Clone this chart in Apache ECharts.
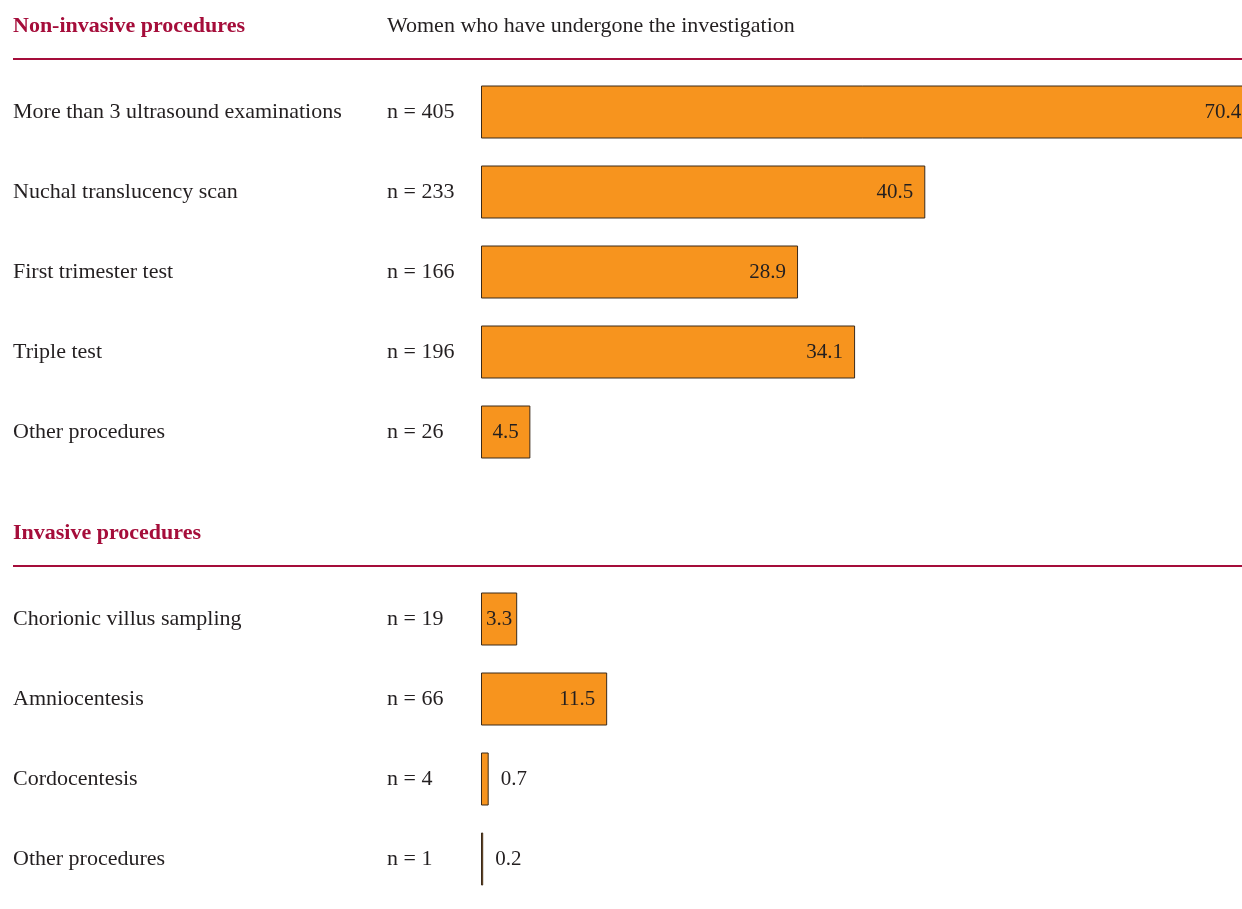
<!DOCTYPE html>
<html>
<head>
<meta charset="utf-8">
<style>
  html, body { margin: 0; padding: 0; background: #ffffff; }
  #chart { width: 1242px; height: 909px; }
</style>
<script src="https://cdn.jsdelivr.net/npm/echarts@6/dist/echarts.min.js"></script>
</head>
<body>
<div id="chart"></div>
<script>
// Prenatal diagnostics: share of women (%) who have undergone each investigation
const groupTitles = ['Non-invasive procedures', 'Invasive procedures'];
const columnTitle = 'Women who have undergone the investigation';

const nonInvasiveNames = [
  'More than 3 ultrasound examinations',
  'Nuchal translucency scan',
  'First trimester test',
  'Triple test',
  'Other procedures'
];
const nonInvasiveCounts = [405, 233, 166, 196, 26];
const nonInvasivePercent = [70.4, 40.5, 28.9, 34.1, 4.5];

const invasiveNames = [
  'Chorionic villus sampling',
  'Amniocentesis',
  'Cordocentesis',
  'Other procedures'
];
const invasiveCounts = [19, 66, 4, 1];
const invasivePercent = [3.3, 11.5, 0.7, 0.2];

const FONT = '"Liberation Serif", "DejaVu Serif", serif';
const INK = '#231f20';
const CRIMSON = '#a50d3a';
const ORANGE = '#f7941e';
// visible scale ends at the page edge; the longest bar runs past it
const AXIS_MAX = 69.37;

function barData(values) {
  return values.map(function (v) {
    let pos = 'insideRight';
    if (v < 2) pos = 'right';
    else if (v < 6) pos = 'inside';
    return { value: v, label: { position: pos } };
  });
}

function yAxisFor(gridIndex, names, counts) {
  return {
    type: 'category',
    gridIndex: gridIndex,
    data: names,
    inverse: true,
    axisLine: { show: false },
    axisTick: { show: false },
    splitLine: { show: false },
    axisLabel: {
      align: 'left',
      margin: 468,
      formatter: function (value, index) {
        return '{name|' + value + '}{n|n = ' + counts[index] + '}';
      },
      rich: {
        name: { width: 374, fontFamily: FONT, fontSize: 22, color: INK },
        n: { fontFamily: FONT, fontSize: 22, color: INK }
      }
    }
  };
}

function xAxisFor(gridIndex) {
  return {
    type: 'value',
    gridIndex: gridIndex,
    min: 0,
    max: AXIS_MAX,
    show: false
  };
}

function seriesFor(index, values) {
  return {
    type: 'bar',
    xAxisIndex: index,
    yAxisIndex: index,
    data: barData(values),
    barWidth: 53,
    clip: false,
    itemStyle: { color: ORANGE, borderColor: '#3b2a1a', borderWidth: 1 },
    label: {
      show: true,
      distance: 12,
      color: INK,
      fontFamily: FONT,
      fontSize: 21,
      formatter: function (p) { return p.value.toFixed(1); }
    },
    silent: true,
    animation: false
  };
}

const chart = echarts.init(document.getElementById('chart'), null, { renderer: 'canvas' });

chart.setOption({
  backgroundColor: '#ffffff',
  animation: false,
  grid: [
    { left: 481, top: 72, right: 0, height: 400 },
    { left: 481, top: 579, right: 0, height: 320 }
  ],
  xAxis: [xAxisFor(0), xAxisFor(1)],
  yAxis: [
    yAxisFor(0, nonInvasiveNames, nonInvasiveCounts),
    yAxisFor(1, invasiveNames, invasiveCounts)
  ],
  series: [
    seriesFor(0, nonInvasivePercent),
    seriesFor(1, invasivePercent)
  ],
  graphic: [
    {
      type: 'text', x: 13, y: 26,
      style: { text: groupTitles[0], fill: CRIMSON, font: 'bold 22px ' + FONT, textVerticalAlign: 'middle' }
    },
    {
      type: 'text', x: 387, y: 26,
      style: { text: columnTitle, fill: INK, font: '22px ' + FONT, textVerticalAlign: 'middle' }
    },
    {
      type: 'line',
      shape: { x1: 13, y1: 59, x2: 1242, y2: 59 },
      style: { stroke: CRIMSON, lineWidth: 2 }
    },
    {
      type: 'text', x: 13, y: 533,
      style: { text: groupTitles[1], fill: CRIMSON, font: 'bold 22px ' + FONT, textVerticalAlign: 'middle' }
    },
    {
      type: 'line',
      shape: { x1: 13, y1: 566, x2: 1242, y2: 566 },
      style: { stroke: CRIMSON, lineWidth: 2 }
    }
  ]
});
</script>
</body>
</html>
